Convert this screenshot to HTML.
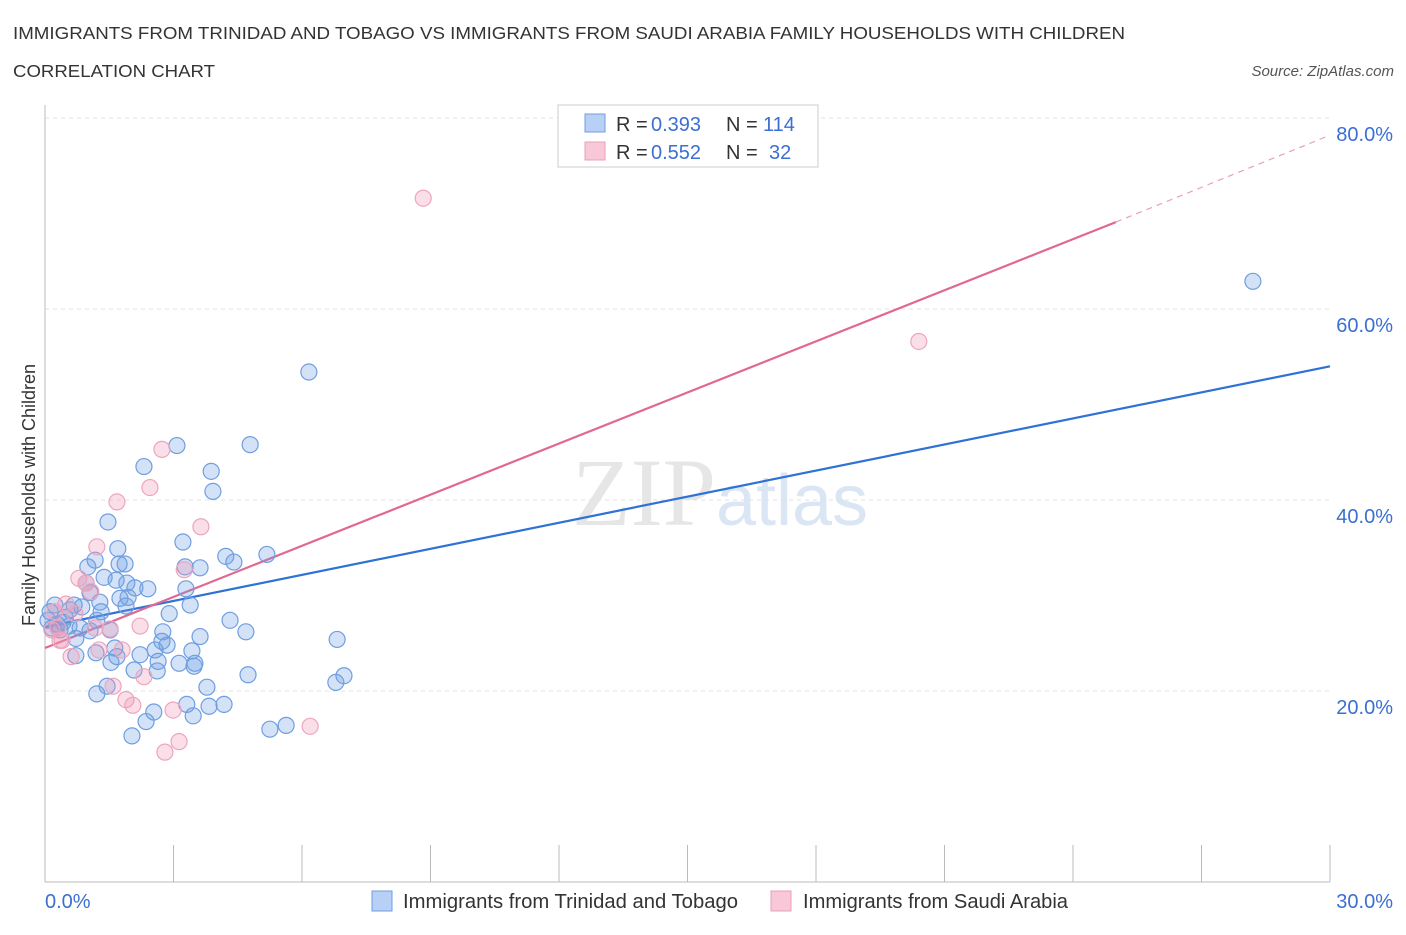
<!DOCTYPE html>
<html><head><meta charset="utf-8"><style>
body{margin:0;background:#fff;font-family:"Liberation Sans",sans-serif;}
svg text{font-family:"Liberation Sans",sans-serif;}
</style></head><body>
<svg width="1406" height="930" xmlns="http://www.w3.org/2000/svg">
<text x="13" y="39" font-size="17.5" fill="#333" textLength="1112" lengthAdjust="spacingAndGlyphs">IMMIGRANTS FROM TRINIDAD AND TOBAGO VS IMMIGRANTS FROM SAUDI ARABIA FAMILY HOUSEHOLDS WITH CHILDREN</text>
<text x="13" y="77" font-size="17.5" fill="#333" textLength="202" lengthAdjust="spacingAndGlyphs">CORRELATION CHART</text>
<text x="1394" y="76" font-size="15" fill="#555" font-style="italic" text-anchor="end">Source: ZipAtlas.com</text>
<text x="720" y="525" font-size="96" fill="#e6e6e6" text-anchor="middle" font-family="Liberation Serif"><tspan font-family="Liberation Serif">ZIP</tspan><tspan fill="#dbe6f5" font-family="Liberation Sans" font-size="72">atlas</tspan></text>
<g id="grid"></g>
<g id="axes"></g>
<g id="lines"></g>
<g id="pts"></g>
<text x="35" y="495" font-size="18" fill="#333" text-anchor="middle" transform="rotate(-90 35 495)">Family Households with Children</text>
<g>
<rect x="558" y="105" width="260" height="62" fill="#fff" stroke="#ccc"/>
<rect x="585" y="114" width="20" height="18" fill="#b8d0f5" stroke="#6f9ee0"/>
<text x="616" y="131" font-size="20" fill="#333">R =</text>
<text x="651" y="131" font-size="20" fill="#3b6fd1">0.393</text>
<text x="726" y="131" font-size="20" fill="#333">N =</text>
<text x="763" y="131" font-size="20" fill="#3b6fd1">114</text>
<rect x="585" y="142" width="20" height="18" fill="#f8c8d8" stroke="#e8a0b8"/>
<text x="616" y="159" font-size="20" fill="#333">R =</text>
<text x="651" y="159" font-size="20" fill="#3b6fd1">0.552</text>
<text x="726" y="159" font-size="20" fill="#333">N =</text>
<text x="769" y="159" font-size="20" fill="#3b6fd1">32</text>
</g>
<g>
<rect x="372" y="891" width="20" height="20" fill="#b8d0f5" stroke="#6f9ee0"/>
<text x="403" y="908" font-size="20" fill="#333" textLength="335" lengthAdjust="spacingAndGlyphs">Immigrants from Trinidad and Tobago</text>
<rect x="771" y="891" width="20" height="20" fill="#f8c8d8" stroke="#e8a0b8"/>
<text x="803" y="908" font-size="20" fill="#333" textLength="265" lengthAdjust="spacingAndGlyphs">Immigrants from Saudi Arabia</text>
</g>
</svg>
<script>
const yTicks=[20,40,60,80];
const xTickVals=[0,3,6,9,12,15,18,21,24,27,30];
const blueX=[6.16,28.2,3.08,4.79,2.31,3.88,3.92,1.47,3.22,1.70,5.18,4.22,4.41,1.17,1.87,1.73,3.27,3.62,1.00,1.38,1.66,1.91,0.96,2.40,2.10,3.29,1.05,1.94,1.75,1.28,1.89,3.39,0.68,0.86,0.23,1.31,2.90,4.32,0.47,1.21,0.28,0.56,0.07,1.52,1.05,4.69,2.75,3.62,6.82,0.72,2.73,2.85,1.63,2.57,3.43,1.19,0.72,2.22,1.68,2.64,1.54,3.50,3.13,3.48,2.08,2.62,4.74,6.98,6.79,1.45,3.78,1.21,3.31,4.18,3.83,2.54,3.46,2.36,5.63,5.25,2.03,0.12,0.35,0.16,0.42,0.82,0.58];
const blueY=[53.4,62.9,45.7,45.8,43.5,43.0,40.9,37.7,35.6,34.9,34.3,34.1,33.5,33.7,33.3,33.3,33.0,32.9,33.0,31.9,31.6,31.3,31.3,30.7,30.8,30.7,30.3,29.8,29.7,29.3,28.9,29.0,29.0,28.8,29.0,28.3,28.1,27.4,27.7,27.4,27.0,26.8,27.4,26.4,26.3,26.2,26.2,25.7,25.4,25.5,25.2,24.8,24.5,24.3,24.2,24.0,23.7,23.8,23.6,23.1,23.0,22.9,22.9,22.6,22.2,22.1,21.7,21.6,20.9,20.5,20.4,19.7,18.6,18.6,18.4,17.8,17.4,16.8,16.4,16.0,15.3,28.3,26.4,26.6,27.2,26.6,28.5];
const pinkX=[8.83,20.4,2.73,2.45,1.68,3.64,1.21,3.25,0.79,0.96,1.07,0.49,2.22,1.52,0.16,0.30,0.40,1.80,1.26,0.61,2.31,1.59,1.89,2.05,2.99,6.19,3.13,2.80,0.70,1.17,0.35,0.23];
const pinkY=[71.6,56.6,45.3,41.3,39.8,37.2,35.1,32.7,31.8,31.3,30.4,29.1,26.8,26.5,26.4,26.6,25.3,24.3,24.3,23.6,21.5,20.5,19.1,18.5,18.0,16.3,14.7,13.6,28.1,26.6,25.3,28.3];
const blueLine=[26.7,54.0];
const pinkLine=[24.5,69.1,78.2];
const NS="http://www.w3.org/2000/svg";
const sx=v=>45+v*(1285/30), sy=v=>882-v*9.55;
function mk(t,a,p){const e=document.createElementNS(NS,t);for(const k in a)e.setAttribute(k,a[k]);document.getElementById(p).appendChild(e);return e;}
yTicks.forEach(t=>{
 const l=mk('line',{x1:45,x2:1330,y1:sy(t),y2:sy(t),stroke:'#e2e2e2','stroke-dasharray':'4,4'},'grid');
 
 
 const tx=mk('text',{x:1393,y:sy(t)+23,'font-size':20,fill:'#3b6fd1','text-anchor':'end'},'grid');tx.textContent=t.toFixed(1)+'%';
 
 
});
const ax=mk('line',{x1:45,x2:45,y1:105,y2:882,stroke:'#bbb'},'axes');


const bx=mk('line',{x1:45,x2:1330,y1:882,y2:882,stroke:'#bbb'},'axes');


xTickVals.forEach(t=>{const l=mk('line',{x1:sx(t),x2:sx(t),y1:845,y2:882,stroke:'#bbb'},'axes');
 
 });
const x0=mk('text',{x:45,y:908,'font-size':20,fill:'#3b6fd1'},'axes');x0.textContent='0.0%';


const x1=mk('text',{x:1393,y:908,'font-size':20,fill:'#3b6fd1','text-anchor':'end'},'axes');x1.textContent='30.0%';


function pts(X,Y,fill,stroke,name){X.forEach((x,i)=>{const c=mk('circle',{cx:sx(x),cy:sy(Y[i]),r:8,fill:fill,stroke:stroke,'stroke-width':1.2},'pts');
 
 });}
pts(blueX,blueY,'rgba(110,158,230,0.3)','#6f9ee0','point-trinidad');
pts(pinkX,pinkY,'rgba(240,150,180,0.3)','#eda5be','point-saudi');
const bl=mk('line',{x1:sx(0),y1:sy(blueLine[0]),x2:sx(30),y2:sy(blueLine[1]),stroke:'#2f72d6','stroke-width':2.2},'lines');


const pl=mk('line',{x1:sx(0),y1:sy(pinkLine[0]),x2:sx(25),y2:sy(pinkLine[1]),stroke:'#e06892','stroke-width':2.2},'lines');


const pd=mk('line',{x1:sx(25),y1:sy(pinkLine[1]),x2:sx(30),y2:sy(pinkLine[2]),stroke:'#e8a0b8','stroke-width':1.2,'stroke-dasharray':'6,5'},'lines');


</script>
</body></html>
